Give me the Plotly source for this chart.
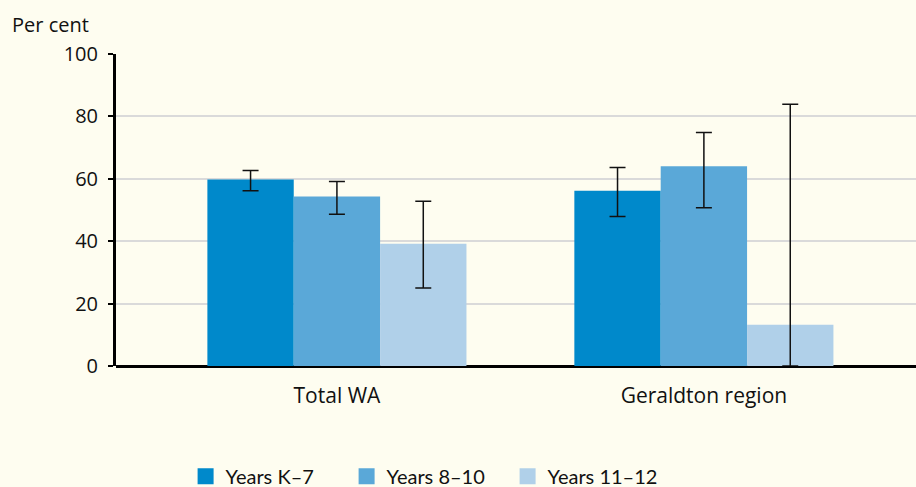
import plotly.graph_objects as go

categories = ["Total WA", "Geraldton region"]
series_names = ["Years K\u20137", "Years 8\u201310", "Years 11\u201312"]
values_k7 = [59.8, 56.2]
values_8_10 = [54.3, 64.0]
values_11_12 = [39.2, 13.2]
upper_k7 = [62.7, 63.6]
lower_k7 = [56.2, 47.9]
upper_8_10 = [59.1, 74.8]
lower_8_10 = [48.6, 50.7]
upper_11_12 = [52.8, 83.9]
lower_11_12 = [25.0, 0.0]
y_ticks = [0, 20, 40, 60, 80, 100]

colors = ["#0089CB", "#5AA8D8", "#B0D0E9"]
font_family = "Open Sans, Noto Sans, sans-serif"
legend_font = "Lato, sans-serif"

fig = go.Figure()
for name, vals, up, lo, col in zip(
    series_names,
    [values_k7, values_8_10, values_11_12],
    [upper_k7, upper_8_10, upper_11_12],
    [lower_k7, lower_8_10, lower_11_12],
    colors,
):
    fig.add_trace(go.Bar(
        x=categories, y=vals, name=name, marker=dict(color=col, line=dict(width=0)),
        error_y=dict(type="data", symmetric=False,
                     array=[u - v for u, v in zip(up, vals)],
                     arrayminus=[v - l for v, l in zip(vals, lo)],
                     color="#111111", thickness=1.5, width=8),
        showlegend=False,
    ))
    fig.add_trace(go.Scatter(
        x=[None], y=[None], mode="markers", name=name,
        marker=dict(symbol="square", size=18, color=col),
        showlegend=True,
    ))

fig.update_layout(
    width=916, height=487,
    margin=dict(l=116, r=0, t=54, b=121, autoexpand=False),
    paper_bgcolor="#FEFDF0", plot_bgcolor="#FEFDF0",
    barmode="group", bargap=0.294, bargroupgap=0,
    font=dict(family=font_family, size=20, color="#111111"),
    xaxis=dict(type="category", range=[-0.602, 1.578], showgrid=False,
               showline=False, ticks="", ticklabelstandoff=15,
               tickfont=dict(size=21)),
    yaxis=dict(range=[0, 100], tickvals=y_ticks, showgrid=True,
               gridcolor="#DADADA", gridwidth=2, zeroline=True,
               zerolinecolor="#000000", zerolinewidth=3,
               showline=True, linecolor="#000000", linewidth=3,
               ticks="outside", ticklen=5, tickwidth=2, tickcolor="#000000",
               tickfont=dict(size=20), ticklabelstandoff=6),
    legend=dict(orientation="h", x=0.087, xanchor="left",
                yref="container", y=0.022, yanchor="middle",
                font=dict(size=20, family=legend_font), entrywidth=116,
                itemsizing="trace", bgcolor="rgba(0,0,0,0)"),
    annotations=[dict(text="Per cent", xref="paper", yref="paper", x=-0.132, y=1.095,
                      xanchor="left", yanchor="middle", showarrow=False,
                      font=dict(size=20))],
)

fig.write_html("out.html", config={"displayModeBar": False},
               post_script="document.body.style.margin='0px';")
